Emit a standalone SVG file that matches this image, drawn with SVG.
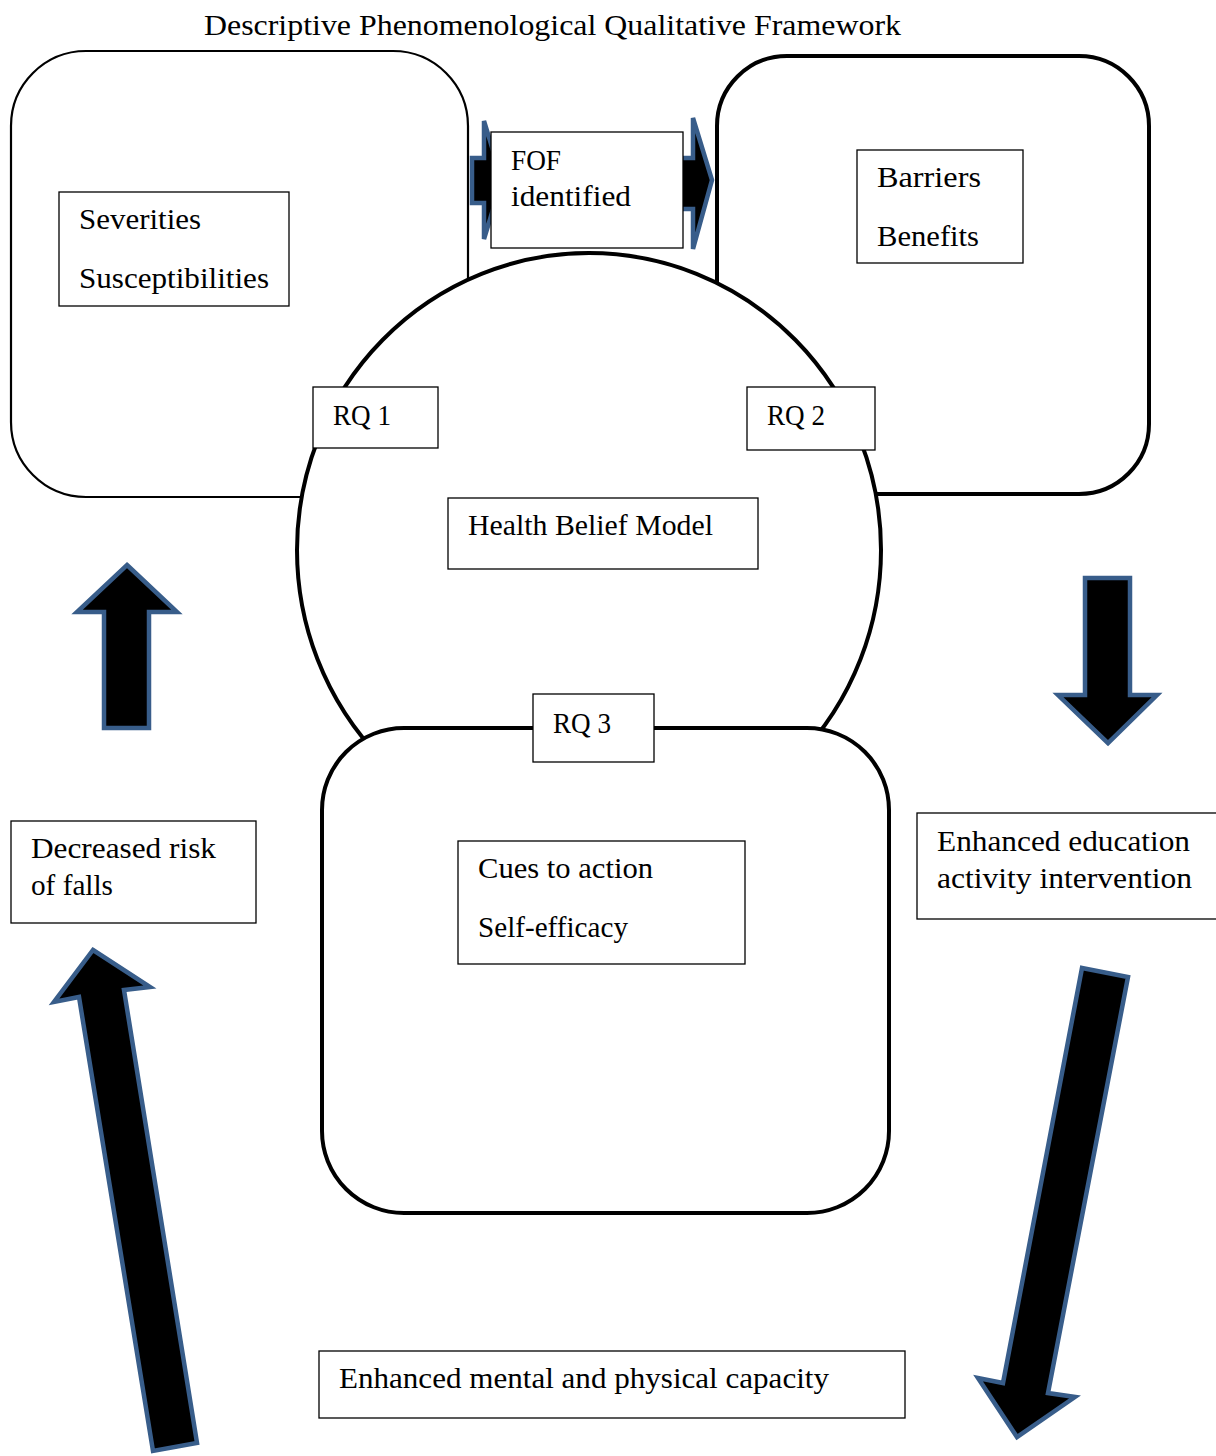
<svg xmlns="http://www.w3.org/2000/svg" width="1216" height="1456" viewBox="0 0 1216 1456">
<style>
.t{font-family:"Liberation Serif","DejaVu Serif",serif;font-size:29px;fill:#000}
.box{fill:#fff;stroke:#000;stroke-width:1.3}
.big{fill:#fff;stroke:#000;stroke-width:4}
.arr{fill:#000;stroke:#385D8A;stroke-width:4.5;stroke-linejoin:miter}
</style>
<rect width="1216" height="1456" fill="#fff"/>
<text class="t" x="204" y="35" textLength="697" lengthAdjust="spacingAndGlyphs">Descriptive Phenomenological Qualitative Framework</text>

<g id="frame-left"><rect x="11" y="51" width="457" height="446" rx="75" ry="75" fill="#fff" stroke="#000" stroke-width="2.2"/></g>
<g id="frame-right"><rect x="717" y="56" width="432" height="438" rx="70" ry="70" class="big"/></g>
<g id="hbm-circle"><ellipse cx="589" cy="550" rx="292" ry="297" class="big"/></g>
<g id="frame-bottom"><rect x="322" y="728" width="567" height="485" rx="82" ry="82" class="big"/></g>

<g id="connectors">
<polygon class="arr" points="472,158 484,158 484,121 502,180 484,239 484,203 472,203"/>
<polygon class="arr" points="678,158 693,158 693,118 712,180 693,249 693,209 678,209"/>
<polygon class="arr" points="127,565 177,612 149,612 149,728 104,728 104,612 77,612"/>
<polygon class="arr" points="1085,578 1130,578 1130,695 1157,695 1108,743 1058,695 1085,695"/>
<polygon class="arr" points="93,950 150,987 124,990 197,1443 153,1451 79,997 54,1002"/>
<polygon class="arr" points="1082,968 1128,977 1048,1393 1075,1397 1017,1437 978,1378 1003,1383"/>
</g>

<g id="fof"><rect x="491" y="132" width="192" height="116" class="box"/>
<text class="t" x="511" y="170" textLength="50" lengthAdjust="spacingAndGlyphs">FOF</text>
<text class="t" x="511" y="206" textLength="120" lengthAdjust="spacingAndGlyphs">identified</text></g>

<g id="severities"><rect x="59" y="192" width="230" height="114" class="box"/>
<text class="t" x="79" y="229" textLength="122" lengthAdjust="spacingAndGlyphs">Severities</text>
<text class="t" x="79" y="288" textLength="190" lengthAdjust="spacingAndGlyphs">Susceptibilities</text></g>

<g id="barriers"><rect x="857" y="150" width="166" height="113" class="box"/>
<text class="t" x="877" y="187" textLength="104" lengthAdjust="spacingAndGlyphs">Barriers</text>
<text class="t" x="877" y="246" textLength="102" lengthAdjust="spacingAndGlyphs">Benefits</text></g>

<g id="rq1"><rect x="313" y="387" width="125" height="61" class="box"/>
<text class="t" x="333" y="425" textLength="58" lengthAdjust="spacingAndGlyphs">RQ 1</text></g>

<g id="rq2"><rect x="747" y="387" width="128" height="63" class="box"/>
<text class="t" x="767" y="425" textLength="58" lengthAdjust="spacingAndGlyphs">RQ 2</text></g>

<g id="hbm"><rect x="448" y="498" width="310" height="71" class="box"/>
<text class="t" x="468" y="535" textLength="245" lengthAdjust="spacingAndGlyphs">Health Belief Model</text></g>

<g id="rq3"><rect x="533" y="694" width="121" height="68" class="box"/>
<text class="t" x="553" y="733" textLength="58" lengthAdjust="spacingAndGlyphs">RQ 3</text></g>

<g id="cues"><rect x="458" y="841" width="287" height="123" class="box"/>
<text class="t" x="478" y="878" textLength="175" lengthAdjust="spacingAndGlyphs">Cues to action</text>
<text class="t" x="478" y="937" textLength="150" lengthAdjust="spacingAndGlyphs">Self-efficacy</text></g>

<g id="decreased-risk"><rect x="11" y="821" width="245" height="102" class="box"/>
<text class="t" x="31" y="858" textLength="185" lengthAdjust="spacingAndGlyphs">Decreased risk</text>
<text class="t" x="31" y="895" textLength="82" lengthAdjust="spacingAndGlyphs">of falls</text></g>

<g id="enhanced-education"><rect x="917" y="813" width="305" height="106" class="box"/>
<text class="t" x="937" y="851" textLength="253" lengthAdjust="spacingAndGlyphs">Enhanced education</text>
<text class="t" x="937" y="888" textLength="255" lengthAdjust="spacingAndGlyphs">activity intervention</text></g>

<g id="enhanced-capacity"><rect x="319" y="1351" width="586" height="67" class="box"/>
<text class="t" x="339" y="1388" textLength="490" lengthAdjust="spacingAndGlyphs">Enhanced mental and physical capacity</text></g>
</svg>
